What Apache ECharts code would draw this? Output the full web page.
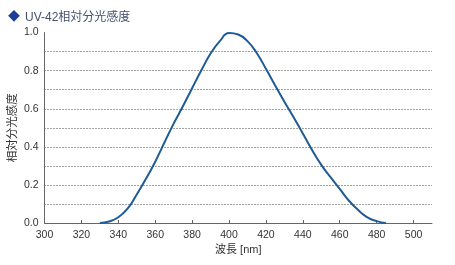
<!DOCTYPE html>
<html><head><meta charset="utf-8">
<script src="https://cdn.jsdelivr.net/npm/echarts@6/dist/echarts.min.js"></script>
<style>html,body{margin:0;padding:0;background:#fff}#c{width:455px;height:265px}</style>
</head><body><div id="c"></div>
<script>
var wavelengths = [330,335,340,345,350,355,360,365,370,375,380,385,390,395,400,405,410,415,420,425,430,435,440,445,450,455,460,465,470,475,480,485];
var sensitivity = [0,0.008,0.03,0.075,0.15,0.232,0.322,0.423,0.522,0.613,0.708,0.802,0.89,0.955,0.998,0.99,0.955,0.893,0.81,0.722,0.637,0.555,0.47,0.383,0.305,0.241,0.179,0.117,0.068,0.03,0.01,0];
var titleText = 'UV-42相対分光感度';
var xName = '波長 [nm]';
var yName = '相対分光感度';

var chart = echarts.init(document.getElementById('c'), null, {renderer:'canvas'});
var ff = 'Arial, "Liberation Sans", "Noto Sans CJK JP", sans-serif';
chart.setOption({
  animation:false,
  title:{
    text:'{d|◆} {t|'+titleText+'}', left:3, top:4,
    textStyle:{fontWeight:'normal',rich:{d:{color:'#1c3f94',fontSize:12,fontFamily:ff,fontWeight:'normal'},t:{color:'#44506e',fontSize:12,fontFamily:ff,fontWeight:'normal'}}}
  },
  grid:{left:44.5, right:23, top:32.6, bottom:42, containLabel:false, outerBoundsMode:'none'},
  xAxis:{
    type:'value', min:300, max:510, interval:20,
    name:xName, nameLocation:'middle', nameGap:21, nameMoveOverlap:false,
    nameTextStyle:{color:'#333',fontSize:11,fontFamily:ff},
    axisLine:{lineStyle:{color:'#666',width:1}},
    axisTick:{show:true,inside:true,length:3,lineStyle:{color:'#666'}},
    axisLabel:{color:'#333',fontSize:10.5,fontFamily:ff,margin:7,showMaxLabel:false},
    splitLine:{show:false}
  },
  yAxis:{
    type:'value', min:0, max:1, interval:0.1,
    name:yName, nameLocation:'middle', nameGap:26, nameRotate:90, nameMoveOverlap:false,
    nameTextStyle:{color:'#333',fontSize:11.5,fontFamily:ff},
    axisLine:{show:true,lineStyle:{color:'#666',width:1}},
    axisTick:{show:false},
    axisLabel:{color:'#333',fontSize:10.5,fontFamily:ff,margin:6,
      formatter:function(v){var k=Math.round(v*10);return k%2===0?(k/10).toFixed(1):'';}},
    splitLine:{show:true,showMinLine:false,showMaxLine:false,lineStyle:{color:'#444',type:[1,2],width:1}}
  },
  series:[{
    type:'line', smooth:0.5, showSymbol:false,
    data:wavelengths.map(function(w,i){return [w,sensitivity[i]];}),
    lineStyle:{color:'#1f5b94',width:2}
  }]
});
</script></body></html>
